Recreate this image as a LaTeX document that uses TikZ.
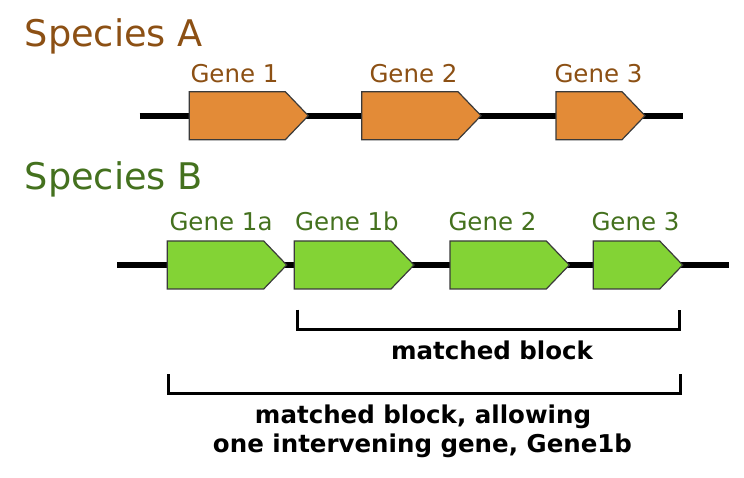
\documentclass[tikz,border=0pt]{standalone}
\usepackage{fontspec}
\setmainfont{DejaVu Sans}
\definecolor{orangefill}{HTML}{E38B37}
\definecolor{greenfill}{HTML}{83D335}
\definecolor{spbrown}{HTML}{8C5014}
\definecolor{spgreen}{HTML}{44711E}
\definecolor{geneline}{HTML}{3A3A3A}
\newcommand{\mygene}[4]{\draw[geneshape,fill=#1] ({#2},{#4-24}) -- ({#3-23},{#4-24}) -- ({#3},{#4}) -- ({#3-23},{#4+24}) -- ({#2},{#4+24}) -- cycle;}
\begin{document}
\begin{tikzpicture}[x=1pt,y=-1pt,
  chrom/.style={line width=6pt,black},
  geneshape/.style={draw=geneline,line width=1.2pt,line join=miter},
  species/.style={anchor=base west,inner sep=0pt,font=\fontsize{36.7}{44}\selectfont},
  genelabel/.style={anchor=base west,inner sep=0pt,font=\fontsize{24.5}{29}\selectfont},
  bracket/.style={line width=3pt,black,line cap=butt,line join=miter},
  blocklabel/.style={anchor=base,inner sep=0pt,font=\fontsize{24.5}{29}\selectfont\bfseries}]
\useasboundingbox (0,0) rectangle (744,478);
% Species A
\node[species,text=spbrown] (spA) at (24.6,46.7) {Species A};
\draw[chrom] (139.5,115.7) -- (683,115.7);
\mygene{orangefill}{189.3}{308.3}{115.7}
\mygene{orangefill}{361.7}{481}{115.7}
\mygene{orangefill}{556}{645}{115.7}
\node[genelabel,text=spbrown] (a1) at (190.3,83) {Gene 1};
\node[genelabel,text=spbrown] (a2) at (369.3,83) {Gene 2};
\node[genelabel,text=spbrown] (a3) at (554.3,83) {Gene 3};
% Species B
\node[species,text=spgreen] (spB) at (24.6,189.3) {Species B};
\draw[chrom] (117.3,265) -- (729,265);
\mygene{greenfill}{167.3}{286.7}{265}
\mygene{greenfill}{294.3}{414}{265}
\mygene{greenfill}{450}{569.3}{265}
\mygene{greenfill}{593.3}{682.7}{265}
\node[genelabel,text=spgreen] (b1a) at (169.3,230.7) {Gene 1a};
\node[genelabel,text=spgreen] (b1b) at (295,230.7) {Gene 1b};
\node[genelabel,text=spgreen] (b2) at (448.3,230.7) {Gene 2};
\node[genelabel,text=spgreen] (b3) at (591.3,230.7) {Gene 3};
% brackets
\coordinate (k1a) at (297.5,309.5);
\coordinate (k1b) at (679,309.5);
\draw[bracket] (k1a) -- (297.5,329) -- (679,329) -- (k1b);
\node[blocklabel] (m1) at (492,359) {matched block};
\coordinate (k2a) at (168.5,374);
\coordinate (k2b) at (680,374);
\draw[bracket] (k2a) -- (168.5,393.5) -- (680,393.5) -- (k2b);
\node[blocklabel] (m2a) at (423,423.3) {matched block, allowing};
\node[blocklabel] (m2b) at (422.5,452) {one intervening gene, Gene1b};
\end{tikzpicture}
\end{document}
